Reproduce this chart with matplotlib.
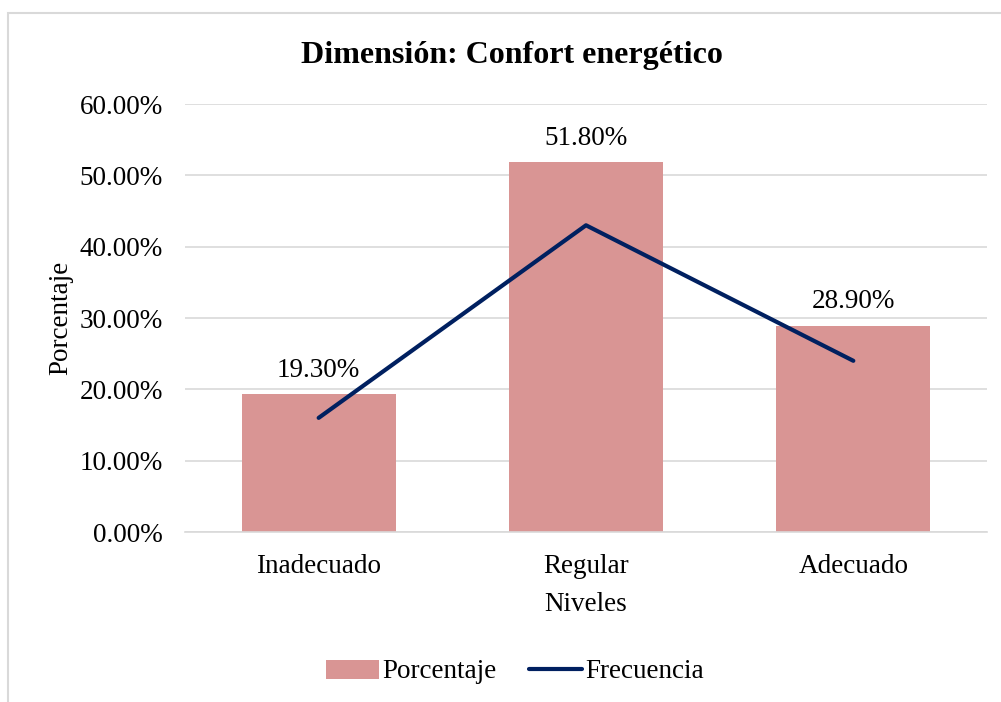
import matplotlib
matplotlib.use("Agg")
import matplotlib.pyplot as plt
from matplotlib.patches import Rectangle
from matplotlib.ticker import FuncFormatter, MultipleLocator

categories = ["Inadecuado", "Regular", "Adecuado"]
porcentaje = [19.3, 51.8, 28.9]
frecuencia = [16, 43, 24]

plt.rcParams['font.family'] = ['Liberation Serif', 'DejaVu Serif']
FS = 19.5

fig = plt.figure(figsize=(10.01, 7.02), dpi=100)
ax = fig.add_axes([185/1001, 1-532/702, (987-185)/1001, (532-104)/702])

# outer chart border
fig.patches.append(Rectangle((8/1001, -0.1), 1.1, 1-13/702+0.1, transform=fig.transFigure,
                             fill=False, edgecolor='#d9d9d9', linewidth=1.5))

x = list(range(len(categories)))
bars = ax.bar(x, porcentaje, width=0.575, color='#d99594', label='Porcentaje', zorder=2)
line, = ax.plot(x, frecuencia, color='#002060', linewidth=3, solid_capstyle='round',
                label='Frecuencia', zorder=3)

for xi, v in zip(x, porcentaje):
    ax.annotate(f"{v:.2f}%", (xi, v), xytext=(0, 8.5), textcoords='offset points',
                ha='center', va='bottom', fontsize=FS)

ax.set_xlim(-0.5, 2.5)
ax.set_ylim(0, 60)
ax.yaxis.set_major_locator(MultipleLocator(10))
ax.yaxis.set_major_formatter(FuncFormatter(lambda v, p: f"{v:.2f}%"))
ax.grid(axis='y', color='#d9d9d9', linewidth=1.2, zorder=0)
ax.set_axisbelow(True)
for s in ['top', 'right', 'left']:
    ax.spines[s].set_visible(False)
ax.spines['bottom'].set_color('#d9d9d9')
ax.spines['bottom'].set_linewidth(1.2)
ax.tick_params(axis='both', length=0, labelsize=FS)
ax.tick_params(axis='y', pad=16)
ax.tick_params(axis='x', pad=15.5)
ax.set_xticks(x)
ax.set_xticklabels(categories)

ax.set_xlabel("Niveles", fontsize=FS, labelpad=10)
ax.set_ylabel("Porcentaje", fontsize=FS)
ax.yaxis.set_label_coords((73 - 185)/802, 0.5)

fig.text(512/1001, 1-55/702, "Dimensión: Confort energético", ha='center', va='center',
         fontsize=23, fontweight='bold')

leg = fig.legend(handles=[bars, line], labels=['Porcentaje', 'Frecuencia'],
                 loc='center', bbox_to_anchor=(515/1001, 1-672/702), ncol=2, frameon=False,
                 fontsize=FS, handlelength=1.95, handletextpad=0.12, columnspacing=1.2)

fig.savefig("out.png", dpi=100)
